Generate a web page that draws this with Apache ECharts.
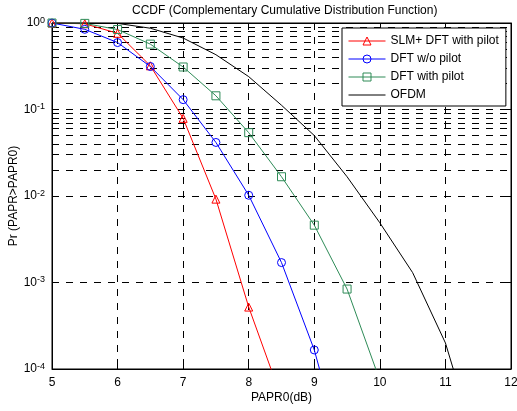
<!DOCTYPE html>
<html>
<head>
<meta charset="utf-8">
<script src="https://cdn.jsdelivr.net/npm/echarts@6/dist/echarts.min.js"></script>
<style>html,body{margin:0;padding:0;background:#fff}#chart{width:517px;height:411px}</style>
</head>
<body>
<div id="chart"></div>
<script>
// PAPR0 (dB) 取样点
var papr0 = [5, 5.5, 6, 6.5, 7, 7.5, 8, 8.5, 9, 9.5, 10, 10.5, 11, 11.5];
// 各曲线 CCDF 值
var slmDftPilot = [1.0, 0.98, 0.76, 0.32, 0.079, 0.0092, 5.2e-4, 4.6e-5];
var dftNoPilot = [1.0, 0.845, 0.594, 0.314, 0.130, 0.0416, 0.0102, 0.0017, 1.66e-4, 7e-6];
var dftPilot = [1.0, 0.99, 0.84, 0.57, 0.31, 0.144, 0.054, 0.0167, 0.0046, 8.4e-4, 7.4e-5];
var ofdm = [1.0, 1.0, 0.99, 0.87, 0.67, 0.43, 0.24, 0.112, 0.050, 0.0167, 0.0049, 0.0013, 2.0e-4, 1.1e-5];
var seriesNames = ['SLM+ DFT with pilot', 'DFT w/o pilot', 'DFT with pilot', 'OFDM'];
var decades = [1e-4, 1e-3, 1e-2, 1e-1, 1];

var font = 'Liberation Sans, Arial, sans-serif';

function pairs(vals) {
    return vals.map(function (v, i) { return [papr0[i], v]; });
}

// 对数轴的次网格线 2..9 x 10^k
var minorLines = [];
for (var k = 0; k < decades.length - 1; k++) {
    for (var m = 2; m <= 9; m++) {
        minorLines.push({yAxis: m * decades[k]});
    }
}

var dash = [7, 7];
var clear = 'rgba(0,0,0,0)';

function lineSeries(name, vals, color, symbol) {
    return {
        name: name,
        type: 'line',
        data: pairs(vals),
        symbol: symbol,
        symbolSize: 8,
        showSymbol: symbol !== 'none',
        clip: true,
        lineStyle: {color: color, width: 1},
        itemStyle: {color: clear, borderColor: symbol === 'none' ? clear : color, borderWidth: 1},
        emphasis: {disabled: true},
        z: 3
    };
}

var myChart = echarts.init(document.getElementById('chart'));
var ofdmSeries = lineSeries(seriesNames[3], ofdm, '#000', 'none');
ofdmSeries.markLine = {
    silent: true,
    symbol: 'none',
    label: {show: false},
    lineStyle: {color: '#000', width: 1, type: dash},
    data: minorLines,
    z: 1
};

var option = {
    animation: false,
    backgroundColor: '#fff',
    textStyle: {fontFamily: font},
    title: {
        text: 'CCDF (Complementary Cumulative Distribution Function)',
        left: 127,
        top: 0,
        textStyle: {fontSize: 12, fontWeight: 'normal', color: '#000', fontFamily: font}
    },
    legend: {
        data: seriesNames,
        orient: 'vertical',
        left: 342,
        top: 28,
        itemWidth: 37,
        itemHeight: 10,
        itemGap: 6,
        padding: [7, 7, 5, 6],
        borderColor: '#000',
        borderWidth: 1,
        backgroundColor: '#fff',
        lineStyle: {width: 1},
        itemStyle: {borderWidth: 1},
        textStyle: {fontSize: 12, color: '#000', fontFamily: font}
    },
    grid: {
        left: 52,
        right: 6,
        top: 23,
        bottom: 42,
        containLabel: false,
        outerBoundsMode: 'none',
        show: true,
        borderColor: '#000',
        borderWidth: 1,
        backgroundColor: '#fff'
    },
    xAxis: [{
        type: 'value',
        min: 5,
        max: 12,
        interval: 1,
        name: 'PAPR0(dB)',
        nameLocation: 'middle',
        nameGap: 23,
        nameMoveOverlap: false,
        nameTextStyle: {fontSize: 12, color: '#000', fontFamily: font},
        axisLine: {lineStyle: {color: '#000', width: 1}},
        axisTick: {inside: true, length: 5, lineStyle: {color: '#000'}},
        axisLabel: {fontSize: 12, color: '#000', margin: 8, fontFamily: font},
        splitLine: {show: true, lineStyle: {color: '#000', type: dash}}
    }, {
        type: 'value',
        position: 'top',
        min: 5,
        max: 12,
        interval: 1,
        axisLine: {lineStyle: {color: '#000', width: 1}},
        axisTick: {inside: true, length: 5, lineStyle: {color: '#000'}},
        axisLabel: {show: false},
        splitLine: {show: false}
    }],
    yAxis: [{
        type: 'log',
        logBase: 10,
        min: 1e-4,
        max: 1,
        name: 'Pr (PAPR>PAPR0)',
        nameLocation: 'middle',
        nameGap: 32,
        nameMoveOverlap: false,
        nameTextStyle: {fontSize: 12, color: '#000', fontFamily: font},
        axisLine: {lineStyle: {color: '#000', width: 1}},
        axisTick: {inside: true, length: 5, lineStyle: {color: '#000'}},
        axisLabel: {
            margin: 7,
            formatter: function (v) {
                var e = Math.round(Math.log(v) / Math.LN10);
                return '{b|10}{s|' + e + '}';
            },
            rich: {
                b: {fontSize: 12, color: '#000', fontFamily: font, lineHeight: 14},
                s: {fontSize: 9, color: '#000', fontFamily: font, lineHeight: 10,
                    verticalAlign: 'top', padding: [0, 0, 18, 0]}
            }
        },
        splitLine: {show: true, lineStyle: {color: '#000', type: dash}}
    }, {
        type: 'log',
        logBase: 10,
        position: 'right',
        min: 1e-4,
        max: 1,
        axisLine: {lineStyle: {color: '#000', width: 1}},
        axisTick: {inside: true, length: 5, lineStyle: {color: '#000'}},
        axisLabel: {show: false},
        splitLine: {show: false}
    }],
    series: [
        lineSeries(seriesNames[0], slmDftPilot, '#ff0000', 'triangle'),
        lineSeries(seriesNames[1], dftNoPilot, '#0000ff', 'circle'),
        lineSeries(seriesNames[2], dftPilot, '#2e8b57', 'rect'),
        ofdmSeries
    ]
};
myChart.setOption(option);
</script>
</body>
</html>
